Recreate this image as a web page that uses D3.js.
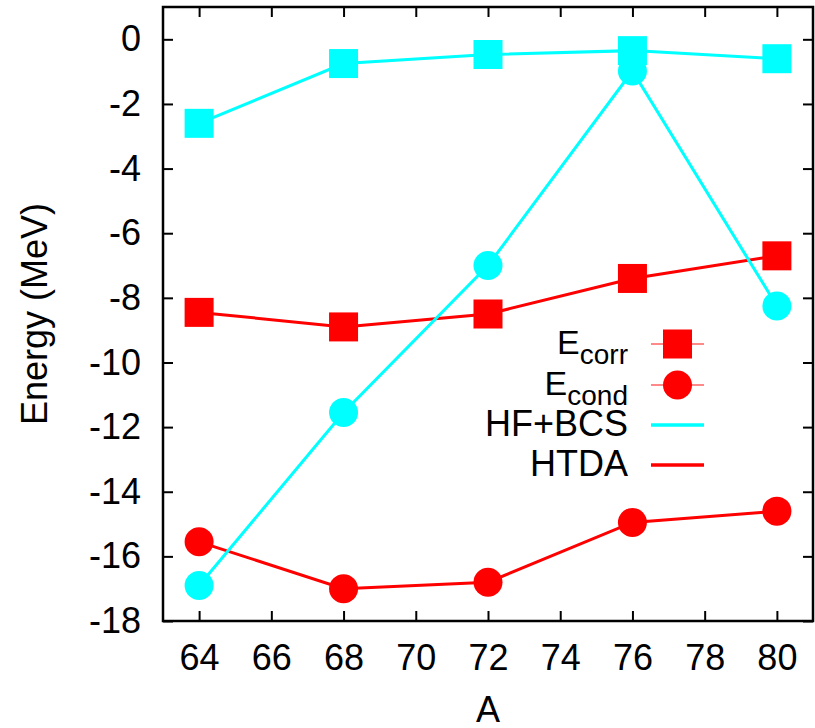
<!DOCTYPE html>
<html>
<meta charset="utf-8">
<title>Energy vs A</title>
<style>
  body { margin: 0; background: #fff; }
  text { font-family: "Liberation Sans", Arial, sans-serif; fill: #000; }
</style>
<body>
<script src="https://d3js.org/d3.v7.min.js"></script>
<script>
// mass numbers
var massA = [64, 68, 72, 76, 80];

// HF+BCS (cyan)
var hfCorr = [-2.6, -0.75, -0.47, -0.35, -0.6];
var hfCond = [-16.9, -11.55, -7.0, -0.98, -8.25];

// HTDA (red)
var htdaCorr = [-8.45, -8.9, -8.5, -7.4, -6.7];
var htdaCond = [-15.55, -17.0, -16.8, -14.95, -14.6];

var xTicks = [64, 66, 68, 70, 72, 74, 76, 78, 80];
var yTicks = [0, -2, -4, -6, -8, -10, -12, -14, -16, -18];

var width = 815, height = 728;
var margin = {top: 7, right: 2, bottom: 107, left: 163};
var fontSize = 36;

var svg = d3.select("body").append("svg")
    .attr("width", width)
    .attr("height", height);

var x = d3.scaleLinear().domain([63, 81]).range([margin.left, width - margin.right]);
var y = d3.scaleLinear().domain([-18, 1]).range([height - margin.bottom, margin.top]);

var tickLen = 10;
// plain hyphen for negatives, like the original
var fmt = function(d) { return String(d); };

// axes: ticks point inward, mirrored on top and right
svg.append("g")
    .attr("transform", "translate(0," + y(-18) + ")")
    .call(d3.axisBottom(x).tickValues(xTicks).tickSize(-tickLen).tickPadding(23).tickFormat(fmt))
    .call(function(g) {
      g.select(".domain").remove();
      g.selectAll("line").attr("stroke-width", 2);
      g.selectAll("text").attr("font-size", fontSize).attr("dy", "0.71em");
    });
svg.append("g")
    .attr("transform", "translate(0," + y(1) + ")")
    .call(d3.axisTop(x).tickValues(xTicks).tickSize(-tickLen).tickFormat(""))
    .call(function(g) { g.select(".domain").remove(); g.selectAll("line").attr("stroke-width", 2); });
svg.append("g")
    .attr("transform", "translate(" + x(63) + ",0)")
    .call(d3.axisLeft(y).tickValues(yTicks).tickSize(-tickLen).tickPadding(22).tickFormat(fmt))
    .call(function(g) {
      g.select(".domain").remove();
      g.selectAll("line").attr("stroke-width", 2);
      g.selectAll("text").attr("font-size", fontSize);
    });
svg.append("g")
    .attr("transform", "translate(" + x(81) + ",0)")
    .call(d3.axisRight(y).tickValues(yTicks).tickSize(-tickLen).tickFormat(""))
    .call(function(g) { g.select(".domain").remove(); g.selectAll("line").attr("stroke-width", 2); });

// frame
svg.append("rect")
    .attr("x", x(63)).attr("y", y(1))
    .attr("width", x(81) - x(63)).attr("height", y(-18) - y(1))
    .attr("fill", "none").attr("stroke", "#000").attr("stroke-width", 2.5);

// axis titles
svg.append("text")
    .attr("transform", "translate(47," + ((y(1) + y(-18)) / 2) + ") rotate(-90)")
    .attr("text-anchor", "middle")
    .attr("font-size", fontSize)
    .text("Energy (MeV)");
svg.append("text")
    .attr("x", (x(63) + x(81)) / 2).attr("y", 722)
    .attr("text-anchor", "middle")
    .attr("font-size", fontSize)
    .text("A");

var line = d3.line()
    .x(function(d) { return x(d[0]); })
    .y(function(d) { return y(d[1]); });

var markSize = 29;

function drawSeries(vals, color, shape) {
  var pts = massA.map(function(a, i) { return [a, vals[i]]; });
  svg.append("path")
      .datum(pts)
      .attr("d", line)
      .attr("fill", "none")
      .attr("stroke", color)
      .attr("stroke-width", 3);
  if (shape == "square") {
    svg.selectAll(null).data(pts).enter().append("rect")
        .attr("x", function(d) { return x(d[0]) - markSize / 2; })
        .attr("y", function(d) { return y(d[1]) - markSize / 2; })
        .attr("width", markSize).attr("height", markSize)
        .attr("fill", color);
  } else {
    svg.selectAll(null).data(pts).enter().append("circle")
        .attr("cx", function(d) { return x(d[0]); })
        .attr("cy", function(d) { return y(d[1]); })
        .attr("r", markSize / 2)
        .attr("fill", color);
  }
}

var red = "#ff0000", cyan = "#00ffff";
drawSeries(htdaCorr, red, "square");
drawSeries(htdaCond, red, "circle");
drawSeries(hfCorr, cyan, "square");
drawSeries(hfCond, cyan, "circle");

// legend
var legX = 628, lineX1 = 651, lineX2 = 704;
var legRows = [
  {main: "E", sub: "corr", color: "#ff6060", mark: "square", y: 344},
  {main: "E", sub: "cond", color: "#ff6060", mark: "circle", y: 385},
  {main: "HF+BCS", sub: null, color: cyan, mark: null, y: 425},
  {main: "HTDA", sub: null, color: red, mark: null, y: 465}
];
legRows.forEach(function(r) {
  var t = svg.append("text")
      .attr("x", legX).attr("y", r.y)
      .attr("dy", "0.3em")
      .attr("text-anchor", "end")
      .attr("font-size", r.sub ? 34 : fontSize);
  t.append("tspan").text(r.main);
  if (r.sub) {
    t.append("tspan").attr("font-size", 28).attr("dy", "0.36em").text(r.sub);
  }
  svg.append("line")
      .attr("x1", lineX1).attr("x2", lineX2)
      .attr("y1", r.y).attr("y2", r.y)
      .attr("stroke", r.color)
      .attr("stroke-width", r.mark ? 1.5 : 3.5);
  var cx = (lineX1 + lineX2) / 2;
  if (r.mark == "square") {
    svg.append("rect")
        .attr("x", cx - markSize / 2).attr("y", r.y - markSize / 2)
        .attr("width", markSize).attr("height", markSize)
        .attr("fill", red);
  } else if (r.mark == "circle") {
    svg.append("circle")
        .attr("cx", cx).attr("cy", r.y).attr("r", markSize / 2)
        .attr("fill", red);
  }
});
</script>
</body>
</html>
